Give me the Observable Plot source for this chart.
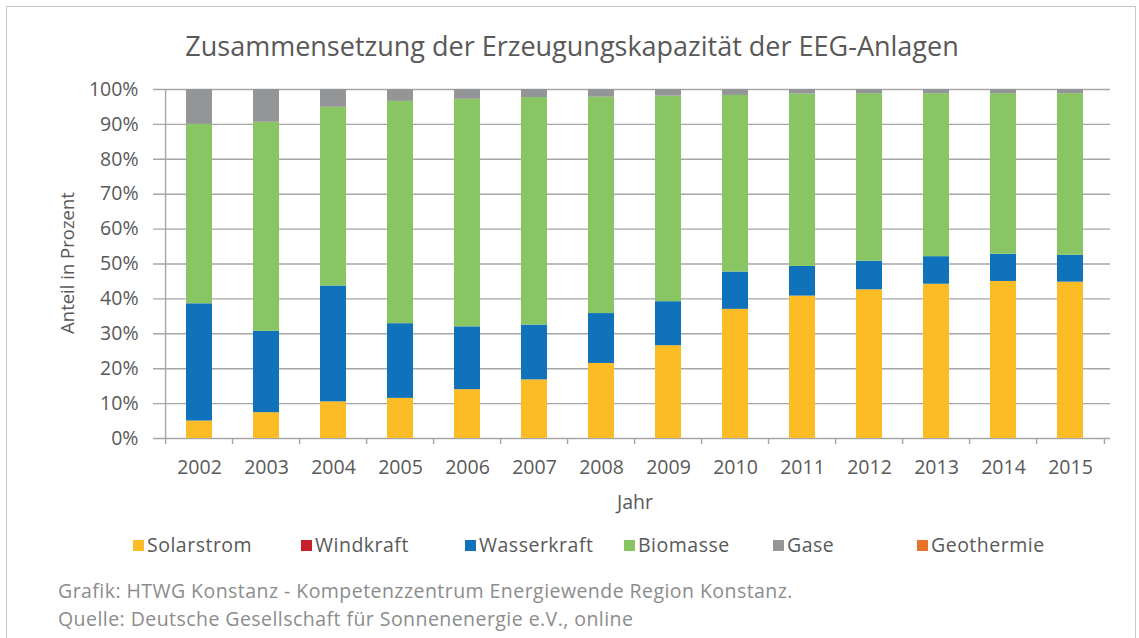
<!DOCTYPE html>
<html>
<head>
<meta charset="utf-8">
<script src="https://cdn.jsdelivr.net/npm/d3@7"></script>
<script src="https://cdn.jsdelivr.net/npm/@observablehq/plot@0.6"></script>
<style>
  html, body { margin: 0; padding: 0; background: #fff; }
  #wrap { position: relative; width: 1139px; height: 638px; overflow: hidden; font-family: "Open Sans", Lato, sans-serif; color: #595959; }
  #border { position: absolute; left: 6px; top: 6px; width: 1130px; height: 700px; border: 1.5px solid #c8c8c8; box-sizing: border-box; }
  #title { position: absolute; left: 0; width: 1144px; top: 27px; text-align: center; font-size: 27px; line-height: 38px; }
  #chart { position: absolute; left: 0; top: 0; }
  #ytitle { position: absolute; left: 66px; top: 263px; transform: translate(-50%, -50%) rotate(-90deg); font-size: 18.5px; white-space: nowrap; }
  #xtitle { position: absolute; left: 635px; top: 501px; transform: translate(-50%, -50%); font-size: 19.5px; }
  #legend { position: absolute; left: 0; top: 533px; width: 1139px; height: 26px; font-size: 19.5px; letter-spacing: 0.5px; line-height: 24px; }
  #legend .item { position: absolute; top: 0; display: flex; align-items: center; white-space: nowrap; }
  #legend .sw { width: 11px; height: 11px; margin-right: 3px; }
  .cap { position: absolute; left: 58px; font-size: 19.5px; letter-spacing: 0.45px; color: #8c8c8c; white-space: nowrap; line-height: 24px; }
</style>
</head>
<body>
<div id="wrap">
  <div id="border"></div>
  <div id="title">Zusammensetzung der Erzeugungskapazität der EEG-Anlagen</div>
  <div id="chart"></div>
  <div id="ytitle">Anteil in Prozent</div>
  <div id="xtitle">Jahr</div>
  <div id="legend"></div>
  <div class="cap" style="top:579px">Grafik: HTWG Konstanz - Kompetenzzentrum Energiewende Region Konstanz.</div>
  <div class="cap" style="top:607px">Quelle: Deutsche Gesellschaft für Sonnenenergie e.V., online</div>
</div>
<script>
// Data (share of capacity in %)
const years = ["2002","2003","2004","2005","2006","2007","2008","2009","2010","2011","2012","2013","2014","2015"];
const seriesNames = ["Solarstrom","Windkraft","Wasserkraft","Biomasse","Gase","Geothermie"];
const seriesColors = ["#FBBC26","#C8202B","#0F72BA","#89C663","#949596","#E8732A"];
const solarstrom  = [5.0, 7.4, 10.5, 11.5, 14.0, 16.8, 21.5, 26.6, 37.0, 40.8, 42.6, 44.2, 45.0, 44.8];
const windkraft   = [0, 0, 0, 0, 0, 0, 0, 0, 0, 0, 0, 0, 0, 0];
const wasserkraft = [33.6, 23.3, 33.2, 21.4, 18.0, 15.7, 14.3, 12.6, 10.7, 8.5, 8.2, 7.9, 7.8, 7.7];
const biomasse    = [51.4, 59.9, 51.2, 63.7, 65.2, 65.2, 62.0, 58.9, 50.6, 49.4, 48.0, 46.7, 46.0, 46.3];
const gase        = [10.0, 9.4, 5.1, 3.4, 2.8, 2.3, 2.2, 1.9, 1.7, 1.3, 1.2, 1.2, 1.2, 1.2];
const geothermie  = [0, 0, 0, 0, 0, 0, 0, 0, 0, 0, 0, 0, 0, 0];
const yTicks = [0, 10, 20, 30, 40, 50, 60, 70, 80, 90, 100];

const seriesValues = [solarstrom, windkraft, wasserkraft, biomasse, gase, geothermie];
const rows = [];
seriesNames.forEach((s, si) => years.forEach((y, yi) => rows.push({year: y, series: s, value: seriesValues[si][yi]})));

const W = 1139, H = 520;
const mL = 160, mR = 29, mT = 89, mB = 82;
const step = (W - mL - mR) / years.length;
const grid = "#a6a6a6";
const tickLen = 6 / ((H - mT - mB) / 100);

const chart = Plot.plot({
  width: W, height: H,
  marginLeft: mL, marginRight: mR, marginTop: mT, marginBottom: mB,
  style: {fontFamily: "'Open Sans', Lato, sans-serif", fontSize: "19.5px", color: "#595959", background: "transparent", overflow: "visible"},
  x: {domain: years, paddingInner: 0.61, paddingOuter: 0.305, label: null},
  y: {domain: [0, 100], label: null},
  color: {domain: seriesNames, range: seriesColors},
  marks: [
    Plot.ruleY(yTicks, {stroke: grid, strokeWidth: 1.4, insetLeft: -7}),
    Plot.ruleX([years[0]], {y1: 0, y2: 100, dx: -step / 2, stroke: grid, strokeWidth: 1.4}),
    Plot.ruleX(years, {y1: 0, y2: -tickLen, dx: -step / 2, stroke: grid, strokeWidth: 1.4}),
    Plot.ruleX([years[years.length - 1]], {y1: 0, y2: -tickLen, dx: step / 2, stroke: grid, strokeWidth: 1.4}),
    Plot.barY(rows, Plot.stackY({x: "year", y: "value", fill: "series", order: seriesNames})),
    Plot.axisY({ticks: yTicks, tickSize: 0, tickPadding: 22, tickFormat: d => d + "%", fill: "#595959", label: null}),
    Plot.axisX({tickSize: 0, tickPadding: 22, fill: "#595959", label: null})
  ]
});
document.getElementById("chart").appendChild(chart);

const legendX = [133, 301, 465, 624, 773, 917];
const legend = document.getElementById("legend");
seriesNames.forEach((s, i) => {
  const it = document.createElement("div");
  it.className = "item";
  it.style.left = legendX[i] + "px";
  it.innerHTML = `<span class="sw" style="background:${seriesColors[i]}"></span><span>${s}</span>`;
  legend.appendChild(it);
});
</script>
</body>
</html>
